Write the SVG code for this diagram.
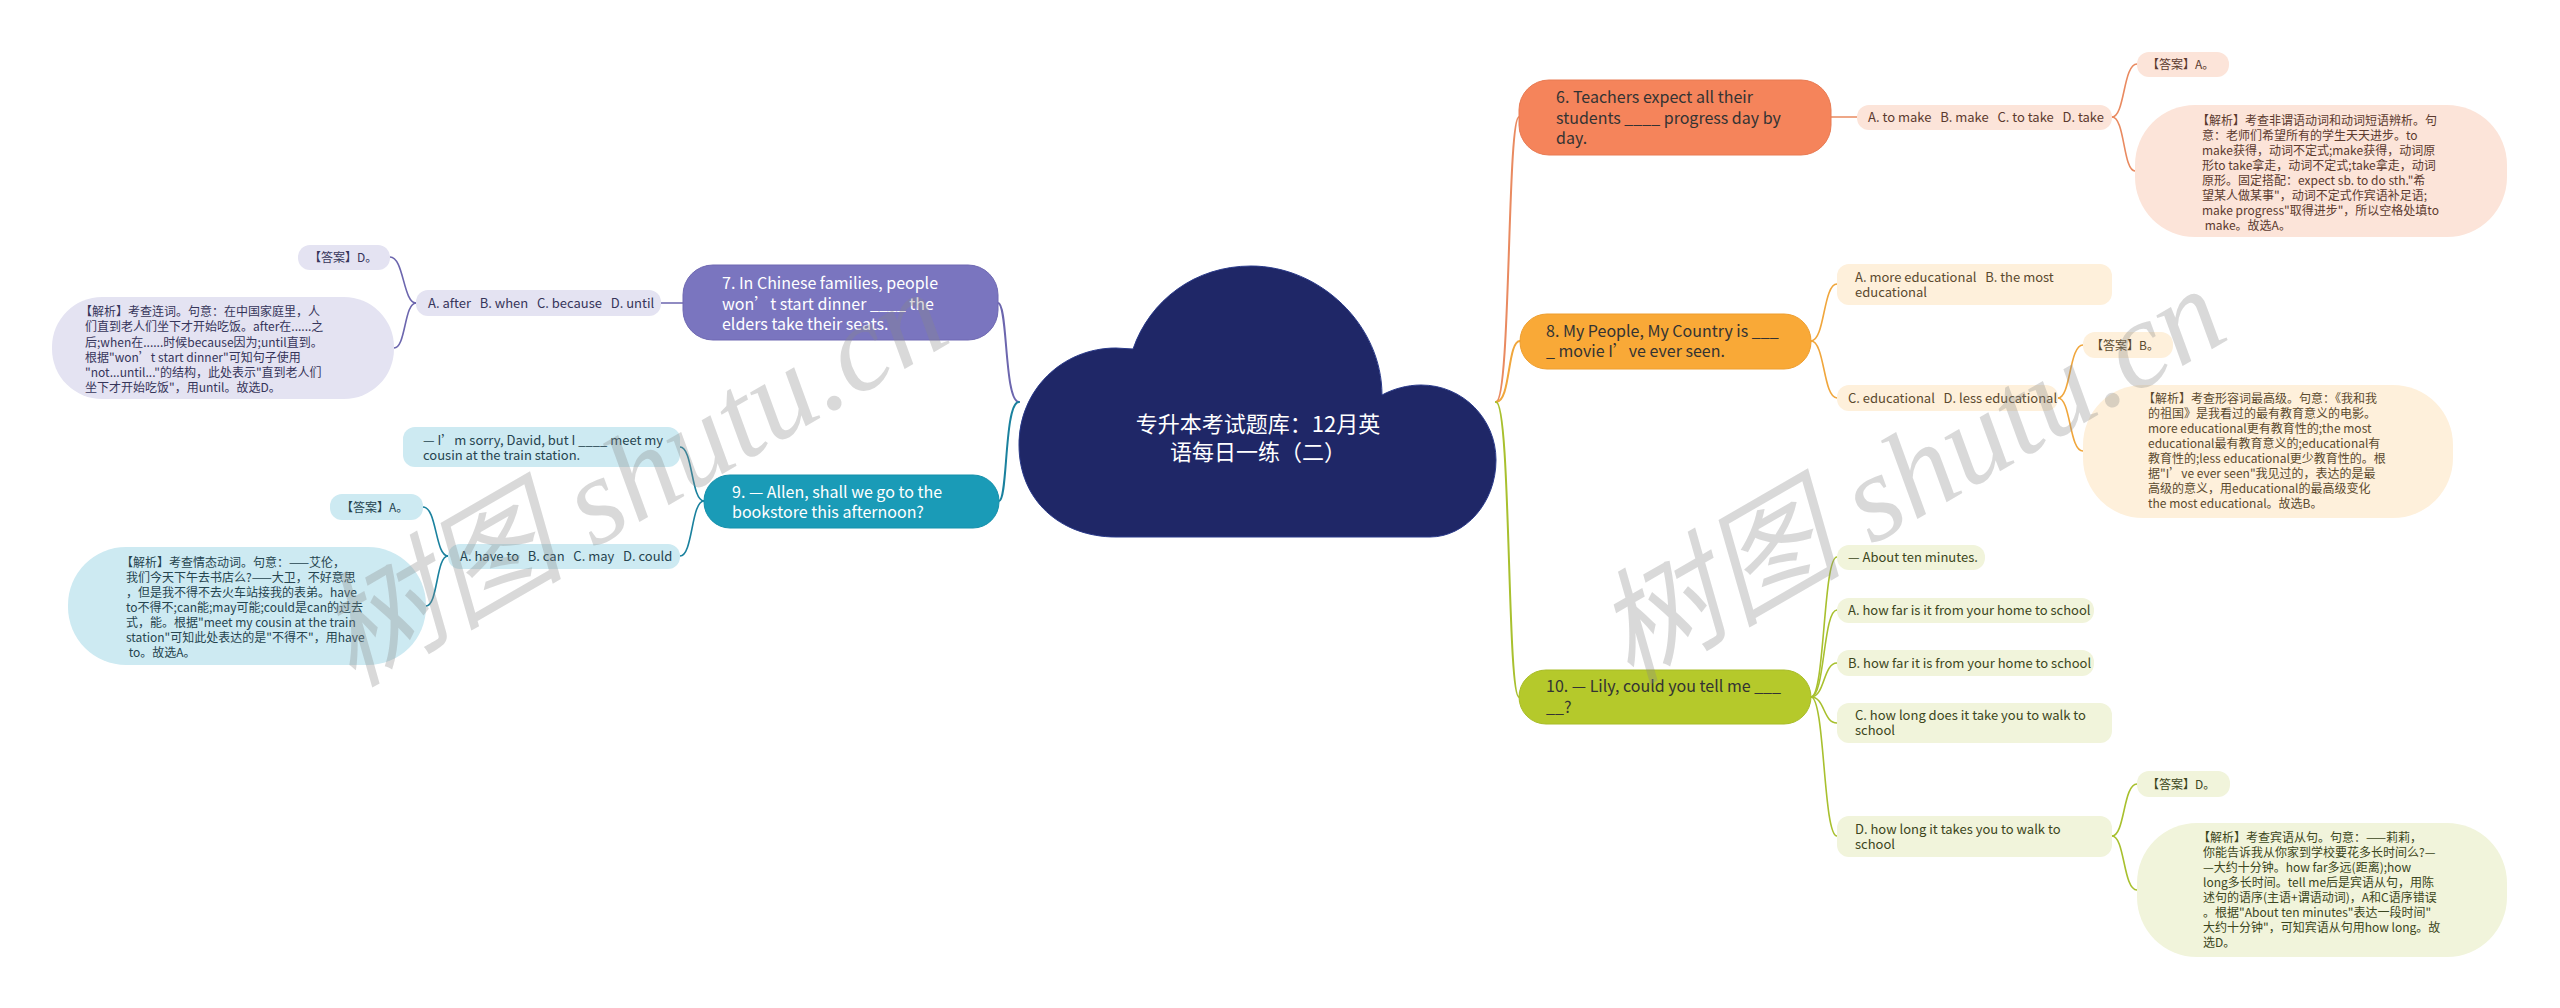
<svg xmlns="http://www.w3.org/2000/svg" width="2560" height="1008" viewBox="0 0 2560 1008">
<style>
text { font-family: "Noto Sans CJK SC", "Noto Sans", sans-serif; white-space: pre; }
.m { font-size: 16px; }
.s { font-size: 13px; }
.e { font-size: 12px; }
.w { fill: #ffffff; }
.d { fill: #333333; }
.c { fill: none; stroke-linecap: round; }
.c1 { stroke-width: 2; }
.c2 { stroke-width: 1.6; }
.or { stroke: #E98A60; }
.yl { stroke: #F0A63C; }
.gr { stroke: #A8C02E; }
.pu { stroke: #6C66AE; }
.te { stroke: #1A819E; }
.t-or { fill: #5b3a2e; }
.t-yl { fill: #5b4a2e; }
.t-gr { fill: #3c4620; }
.t-pu { fill: #36355a; }
.t-te { fill: #26444f; }
.wm { font-family: "Liberation Serif", "Noto Sans CJK SC", serif; font-style: italic; font-size: 124px; fill: #8a8a8a; fill-opacity: 0.32; }
</style>

<g id="connectors">
  <path class="c c1 or" d="M1496,402 C1511,402 1507,117 1519,117"/>
  <path class="c c1 yl" d="M1496,402 C1511,402 1507,341 1520,341"/>
  <path class="c c1 gr" d="M1496,402 C1511,402 1507,697 1519,697"/>
  <path class="c c1 pu" d="M1019,402 C1004,402 1008,303 998,303"/>
  <path class="c c1 te" d="M1019,402 C1004,402 1008,501 999,501"/>

  <path class="c c2 or" d="M1831,117 L1857,117"/>
  <path class="c c2 or" d="M2112,117 C2125,117 2123,64 2137,64"/>
  <path class="c c2 or" d="M2112,117 C2125,117 2123,171 2135,171"/>

  <path class="c c2 yl" d="M1811,341 C1825,341 1823,284 1837,284"/>
  <path class="c c2 yl" d="M1811,341 C1825,341 1823,398 1837,398"/>
  <path class="c c2 yl" d="M2058,398 C2071,398 2069,345 2083,345"/>
  <path class="c c2 yl" d="M2058,398 C2071,398 2069,451 2083,451"/>

  <path class="c c2 gr" d="M1811,697 C1825,697 1823,557 1837,557"/>
  <path class="c c2 gr" d="M1811,697 C1825,697 1823,610 1837,610"/>
  <path class="c c2 gr" d="M1811,697 C1825,697 1823,663 1837,663"/>
  <path class="c c2 gr" d="M1811,697 C1825,697 1823,723 1837,723"/>
  <path class="c c2 gr" d="M1811,697 C1825,697 1823,836 1837,836"/>
  <path class="c c2 gr" d="M2112,836 C2125,836 2123,784 2137,784"/>
  <path class="c c2 gr" d="M2112,836 C2125,836 2123,890 2137,890"/>

  <path class="c c2 pu" d="M683,303 L661,303"/>
  <path class="c c2 pu" d="M416,303 C403,303 404,257 390,257"/>
  <path class="c c2 pu" d="M416,303 C404,303 406,348 394,348"/>

  <path class="c c2 te" d="M704,501 C691,501 693,447 680,447"/>
  <path class="c c2 te" d="M704,501 C691,501 693,556 680,556"/>
  <path class="c c2 te" d="M448,556 C435,556 437,507 423,507"/>
  <path class="c c2 te" d="M448,556 C436,556 438,606 426,606"/>
</g>

<g id="root">
  <path d="M1116,537 C1060,537 1019,500 1019,445 C1019,390 1062,348 1116,348 L1133,349 C1150,300 1195,266 1251,266 C1320,266 1382,325 1382,395 C1393,389 1407,385 1421,385 C1463,385 1496,419 1496,460 C1496,503 1465,537 1430,537 Z" fill="#1F2767" stroke="#2a3a8a" stroke-width="1"/>
  <text class="w" x="1258" y="432" text-anchor="middle" style="font-size:22px">专升本考试题库：12月英</text>
  <text class="w" x="1258" y="460" text-anchor="middle" style="font-size:22px">语每日一练（二）</text>
</g>

<g id="q6">
  <rect x="1519" y="80" width="312" height="75" rx="30" fill="#F5845B" stroke="#E87A52"/>
  <text class="m d" x="1556" y="103">6. Teachers expect all their</text>
  <text class="m d" x="1556" y="124">students ____ progress day by</text>
  <text class="m d" x="1556" y="144">day.</text>
</g>
<g id="q6-opts">
  <rect x="1857" y="105" width="255" height="25" rx="12" fill="#FCE4D9"/>
  <text class="s t-or" x="1868" y="122">A. to make   B. make   C. to take   D. take</text>
</g>
<g id="q6-ans">
  <rect x="2137" y="52" width="92" height="25" rx="12" fill="#FCE4D9"/>
  <text class="e t-or" x="2147" y="69">【答案】A。</text>
</g>
<g id="q6-exp">
  <rect x="2135" y="105" width="372" height="132" rx="60" fill="#FCE4D9"/>
  <text class="e t-or" x="2197" y="124.5">【解析】考查非谓语动词和动词短语辨析。句</text>
  <text class="e t-or" x="2202" y="139.5">意：老师们希望所有的学生天天进步。to</text>
  <text class="e t-or" x="2202" y="154.5">make获得，动词不定式;make获得，动词原</text>
  <text class="e t-or" x="2202" y="169.5">形to take拿走，动词不定式;take拿走，动词</text>
  <text class="e t-or" x="2202" y="184.5">原形。固定搭配：expect sb. to do sth."希</text>
  <text class="e t-or" x="2202" y="199.5">望某人做某事"，动词不定式作宾语补足语;</text>
  <text class="e t-or" x="2202" y="214.5">make progress"取得进步"，所以空格处填to</text>
  <text class="e t-or" x="2202" y="229.5"> make。故选A。</text>
</g>

<g id="q8">
  <rect x="1520" y="314" width="291" height="55" rx="27" fill="#F9A937" stroke="#EE9E2E"/>
  <text class="m d" x="1546" y="337">8. My People, My Country is ___</text>
  <text class="m d" x="1546" y="357">_ movie I’ve ever seen.</text>
</g>
<g id="q8-a">
  <rect x="1837" y="264" width="275" height="41" rx="12" fill="#FEF0DB"/>
  <text class="s t-yl" x="1855" y="281.5">A. more educational   B. the most</text>
  <text class="s t-yl" x="1855" y="297">educational</text>
</g>
<g id="q8-c">
  <rect x="1837" y="385" width="221" height="26" rx="12" fill="#FEF0DB"/>
  <text class="s t-yl" x="1848" y="402.5">C. educational   D. less educational</text>
</g>
<g id="q8-ans">
  <rect x="2083" y="332" width="90" height="26" rx="12" fill="#FEF0DB"/>
  <text class="e t-yl" x="2091" y="349.5">【答案】B。</text>
</g>
<g id="q8-exp">
  <rect x="2083" y="385" width="370" height="133" rx="60" fill="#FEF0DB"/>
  <text class="e t-yl" x="2143" y="402.5">【解析】考查形容词最高级。句意：《我和我</text>
  <text class="e t-yl" x="2148" y="417.5">的祖国》是我看过的最有教育意义的电影。</text>
  <text class="e t-yl" x="2148" y="432.5">more educational更有教育性的;the most</text>
  <text class="e t-yl" x="2148" y="447.5">educational最有教育意义的;educational有</text>
  <text class="e t-yl" x="2148" y="462.5">教育性的;less educational更少教育性的。根</text>
  <text class="e t-yl" x="2148" y="477.5">据"I’ve ever seen"我见过的，表达的是最</text>
  <text class="e t-yl" x="2148" y="492.5">高级的意义，用educational的最高级变化</text>
  <text class="e t-yl" x="2148" y="507.5">the most educational。故选B。</text>
</g>

<g id="q10">
  <rect x="1519" y="670" width="292" height="54" rx="27" fill="#B5C92B" stroke="#A8BC26"/>
  <text class="m d" x="1546" y="692">10. — Lily, could you tell me ___</text>
  <text class="m d" x="1546" y="713">__?</text>
</g>
<g id="q10-stem">
  <rect x="1837" y="545" width="148" height="25" rx="12" fill="#F1F4DB"/>
  <text class="s t-gr" x="1848" y="562">— About ten minutes.</text>
</g>
<g id="q10-a">
  <rect x="1837" y="598" width="257" height="25" rx="12" fill="#F1F4DB"/>
  <text class="s t-gr" x="1848" y="615">A. how far is it from your home to school</text>
</g>
<g id="q10-b">
  <rect x="1837" y="650" width="257" height="26" rx="12" fill="#F1F4DB"/>
  <text class="s t-gr" x="1848" y="667.5">B. how far it is from your home to school</text>
</g>
<g id="q10-c">
  <rect x="1837" y="703" width="275" height="40" rx="12" fill="#F1F4DB"/>
  <text class="s t-gr" x="1855" y="720">C. how long does it take you to walk to</text>
  <text class="s t-gr" x="1855" y="735">school</text>
</g>
<g id="q10-d">
  <rect x="1837" y="816" width="275" height="41" rx="12" fill="#F1F4DB"/>
  <text class="s t-gr" x="1855" y="834">D. how long it takes you to walk to</text>
  <text class="s t-gr" x="1855" y="849">school</text>
</g>
<g id="q10-ans">
  <rect x="2137" y="771" width="93" height="26" rx="12" fill="#F1F4DB"/>
  <text class="e t-gr" x="2147" y="788.5">【答案】D。</text>
</g>
<g id="q10-exp">
  <rect x="2137" y="823" width="370" height="134" rx="60" fill="#F1F4DB"/>
  <text class="e t-gr" x="2198" y="841.5">【解析】考查宾语从句。句意：——莉莉，</text>
  <text class="e t-gr" x="2203" y="856.5">你能告诉我从你家到学校要花多长时间么?—</text>
  <text class="e t-gr" x="2203" y="871.5">—大约十分钟。how far多远(距离);how</text>
  <text class="e t-gr" x="2203" y="886.5">long多长时间。tell me后是宾语从句，用陈</text>
  <text class="e t-gr" x="2203" y="901.5">述句的语序(主语+谓语动词)，A和C语序错误</text>
  <text class="e t-gr" x="2203" y="916.5">。根据"About ten minutes"表达一段时间"</text>
  <text class="e t-gr" x="2203" y="931.5">大约十分钟"，可知宾语从句用how long。故</text>
  <text class="e t-gr" x="2203" y="947">选D。</text>
</g>

<g id="q7">
  <rect x="683" y="265" width="315" height="75" rx="30" fill="#7A75BF" stroke="#6E68B2"/>
  <text class="m w" x="722" y="289">7. In Chinese families, people</text>
  <text class="m w" x="722" y="310">won’t start dinner ____ the</text>
  <text class="m w" x="722" y="330">elders take their seats.</text>
</g>
<g id="q7-opts">
  <rect x="416" y="290" width="245" height="26" rx="12" fill="#E4E3F2"/>
  <text class="s t-pu" x="428" y="307.5">A. after   B. when   C. because   D. until</text>
</g>
<g id="q7-ans">
  <rect x="298" y="245" width="92" height="25" rx="12" fill="#E4E3F2"/>
  <text class="e t-pu" x="309" y="262">【答案】D。</text>
</g>
<g id="q7-exp">
  <rect x="52" y="297" width="342" height="102" rx="50" fill="#E4E3F2"/>
  <text class="e t-pu" x="80" y="315.5">【解析】考查连词。句意：在中国家庭里，人</text>
  <text class="e t-pu" x="85" y="331">们直到老人们坐下才开始吃饭。after在......之</text>
  <text class="e t-pu" x="85" y="346.5">后;when在......时候because因为;until直到。</text>
  <text class="e t-pu" x="85" y="362">根据"won’t start dinner"可知句子使用</text>
  <text class="e t-pu" x="85" y="377">"not...until..."的结构，此处表示"直到老人们</text>
  <text class="e t-pu" x="85" y="392">坐下才开始吃饭"，用until。故选D。</text>
</g>

<g id="q9">
  <rect x="704" y="475" width="295" height="53" rx="26" fill="#1A9BB7" stroke="#1590AB"/>
  <text class="m w" x="732" y="498">9. — Allen, shall we go to the</text>
  <text class="m w" x="732" y="518">bookstore this afternoon?</text>
</g>
<g id="q9-stem">
  <rect x="403" y="427" width="277" height="40" rx="12" fill="#CDEAF2"/>
  <text class="s t-te" x="423" y="444.5">— I’m sorry, David, but I ____ meet my</text>
  <text class="s t-te" x="423" y="459.5">cousin at the train station.</text>
</g>
<g id="q9-opts">
  <rect x="448" y="544" width="232" height="25" rx="12" fill="#CDEAF2"/>
  <text class="s t-te" x="460" y="561">A. have to   B. can   C. may   D. could</text>
</g>
<g id="q9-ans">
  <rect x="330" y="494" width="93" height="26" rx="12" fill="#CDEAF2"/>
  <text class="e t-te" x="341" y="511.5">【答案】A。</text>
</g>
<g id="q9-exp">
  <rect x="68" y="547" width="358" height="118" rx="58" fill="#CDEAF2"/>
  <text class="e t-te" x="121" y="566.5">【解析】考查情态动词。句意：——艾伦，</text>
  <text class="e t-te" x="126" y="581.5">我们今天下午去书店么?——大卫，不好意思</text>
  <text class="e t-te" x="126" y="596.5">，但是我不得不去火车站接我的表弟。have</text>
  <text class="e t-te" x="126" y="611.5">to不得不;can能;may可能;could是can的过去</text>
  <text class="e t-te" x="126" y="626.5">式，能。根据"meet my cousin at the train</text>
  <text class="e t-te" x="126" y="641.5">station"可知此处表达的是"不得不"，用have</text>
  <text class="e t-te" x="126" y="656.5"> to。故选A。</text>
</g>

<g id="watermark">
  <text class="wm" transform="translate(352,688) rotate(-30)">树图 shutu.cn</text>
  <text class="wm" transform="translate(1630,685) rotate(-30)">树图 shutu.cn</text>
</g>
</svg>
